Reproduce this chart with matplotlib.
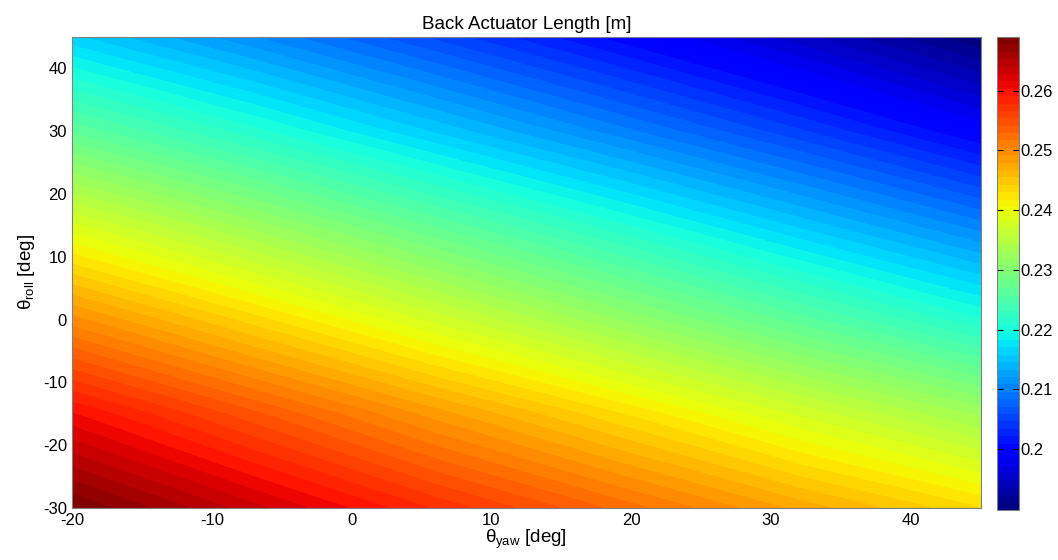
import numpy as np
import matplotlib
matplotlib.use('Agg')
import matplotlib.pyplot as plt

# yaw / roll grid (deg) and back actuator length (m) at each node
yaw_deg = [-20, -7, 6, 19, 32, 45]
roll_deg = [-30, -15, 0, 15, 30, 45]
length_m = [
    [0.2690, 0.2632, 0.2576, 0.2525, 0.2475, 0.2430],   # roll -30
    [0.2604, 0.2544, 0.2485, 0.2431, 0.2377, 0.2327],   # roll -15
    [0.2496, 0.2435, 0.2375, 0.2318, 0.2262, 0.2208],   # roll 0
    [0.2383, 0.2324, 0.2266, 0.2210, 0.2154, 0.2100],   # roll 15
    [0.2266, 0.2211, 0.2155, 0.2101, 0.2048, 0.1994],   # roll 30
    [0.2160, 0.2108, 0.2055, 0.2003, 0.1951, 0.1898],   # roll 45
]

plt.rcParams['font.family'] = ['Liberation Sans', 'DejaVu Sans']
plt.rcParams['mathtext.fontset'] = 'custom'
plt.rcParams['mathtext.rm'] = 'Liberation Sans'
plt.rcParams['mathtext.it'] = 'Liberation Sans'
plt.rcParams['axes.unicode_minus'] = False

font_size = 12
vmin, vmax = 0.1898, 0.2690
jet64 = plt.get_cmap('jet', 64)

fig = plt.figure(figsize=(10.58, 5.6), dpi=100)
ax = fig.add_axes([0.068, 0.093, 0.859, 0.841])
cax = fig.add_axes([0.9425, 0.089, 0.021, 0.845])

Y, R = np.meshgrid(yaw_deg, roll_deg)
Z = np.array(length_m)
levels = np.linspace(vmin, vmax, 65)
h = ax.contourf(Y, R, Z, levels=levels, cmap=jet64, vmin=vmin, vmax=vmax)
# fill the hairline gaps between neighbouring bands
h.set_edgecolor('face')
h.set_linewidth(0.6)

ax.set_xlim(-20, 45)
ax.set_ylim(-30, 45)
ax.set_xticks(np.arange(-20, 41, 10))
ax.set_yticks(np.arange(-30, 41, 10))
ax.tick_params(labelsize=font_size, direction='in', length=0)
for s in ax.spines.values():
    s.set_color('#808080')
    s.set_linewidth(0.8)
    s.set_zorder(5)

ax.set_title('Back Actuator Length [m]', fontsize=13.5, pad=6)
ax.set_xlabel(r'$\theta_{\rm yaw}$ [deg]', fontsize=13.5, labelpad=0)
ax.set_ylabel(r'$\theta_{\rm roll}$ [deg]', fontsize=13.5, labelpad=4)

cb = fig.colorbar(h, cax=cax)
cb.set_ticks([0.20, 0.21, 0.22, 0.23, 0.24, 0.25, 0.26])
cb.set_ticklabels(['0.2', '0.21', '0.22', '0.23', '0.24', '0.25', '0.26'])
cax.tick_params(labelsize=font_size, direction='in', length=4, pad=1,
                left=True, right=True)
cb.outline.set_edgecolor('#808080')
cb.outline.set_linewidth(0.8)

fig.savefig('out.png', dpi=100)
